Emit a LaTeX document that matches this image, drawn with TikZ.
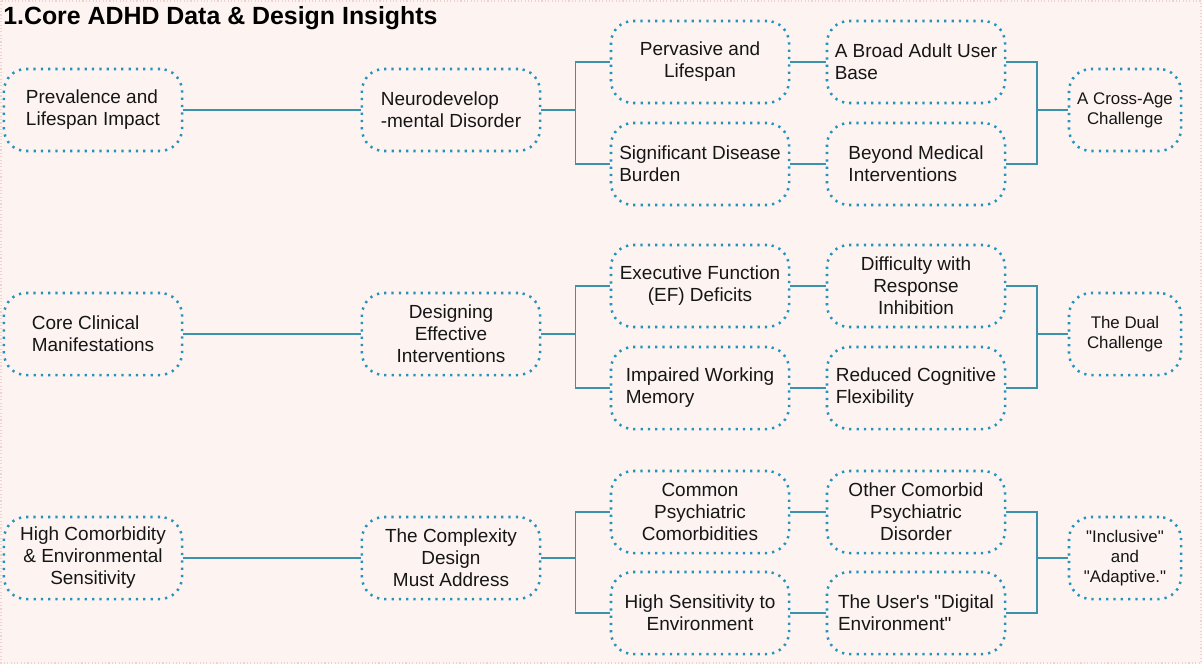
\documentclass[tikz,border=0pt]{standalone}
\usepackage{fontspec}
\setmainfont{Liberation Sans}
\usetikzlibrary{positioning, calc}
\definecolor{pagefill}{HTML}{FDF4F2}
\definecolor{pageedge}{HTML}{EFD3D1}
\definecolor{dotblue}{HTML}{2592BC}
\definecolor{linkteal}{HTML}{3A93AB}
\definecolor{inktext}{HTML}{161616}
\newcommand{\ideabox}[4][]{%
  \node[ideabox, #1] (#2) at (#3) {#4};}

\begin{document}
\begin{tikzpicture}[x=0.025cm, y=-0.025cm,
    font=\fontsize{13.5}{15.6}\selectfont,
    ideabox/.style={draw=dotblue, line width=1.8pt, dash pattern=on 1.6pt off 3.6pt,
      rounded corners=0.55cm, fill=pagefill, minimum width=4.45cm,
      minimum height=2.05cm, align=center, text=inktext, inner sep=2pt},
    endbox/.style={minimum width=2.8cm, font=\fontsize{12}{14.4}\selectfont},
    link/.style={draw=linkteal, line width=0.85pt}]
  % page
  \fill[pagefill] (0,0) rectangle (1202,664);
  \draw[pageedge, line width=0.8pt, dash pattern=on 0.8pt off 1.6pt] (1,1) rectangle (1201,663);
  \useasboundingbox (0,0) rectangle (1202,664);
  \node[anchor=base west, font=\fontsize{17.7}{20}\selectfont\bfseries, text=black,
        inner sep=0pt] (title) at (3,24) {1.Core ADHD Data \& Design Insights};

  % row 1
  \ideabox[align=left]{lead1}{93,110}{Prevalence and\\Lifespan Impact}
  \ideabox[align=left]{mid1}{451,110}{Neurodevelop\\-mental Disorder}
  \ideabox{top1}{700,62}{Pervasive and\\Lifespan}
  \ideabox[align=left]{bot1}{700,164}{Significant Disease\\Burden}
  \ideabox[align=left]{tr1}{916,62}{A Broad Adult User\\Base}
  \ideabox[align=left]{br1}{916,164}{Beyond Medical\\Interventions}
  \ideabox[endbox]{end1}{1125,110}{A Cross-Age\\Challenge}

  % row 2
  \ideabox[align=left]{lead2}{93,334}{Core Clinical\\Manifestations}
  \ideabox{mid2}{451,334}{Designing\\Effective\\Interventions}
  \ideabox{top2}{700,286}{Executive Function\\(EF) Deficits}
  \ideabox[align=left]{bot2}{700,388}{Impaired Working\\Memory}
  \ideabox{tr2}{916,286}{Difficulty with\\Response\\Inhibition}
  \ideabox[align=left]{br2}{916,388}{Reduced Cognitive\\Flexibility}
  \ideabox[endbox]{end2}{1125,334}{The Dual\\Challenge}

  % row 3
  \ideabox{lead3}{93,558}{High Comorbidity\\\& Environmental\\Sensitivity}
  \ideabox{mid3}{451,558}{The Complexity\\Design\\Must Address}
  \ideabox{top3}{700,512}{Common\\Psychiatric\\Comorbidities}
  \ideabox{bot3}{700,613}{High Sensitivity to\\Environment}
  \ideabox{tr3}{916,512}{Other Comorbid\\Psychiatric\\Disorder}
  \ideabox[align=left]{br3}{916,613}{The User\textquotesingle s \textquotedbl Digital\\Environment\textquotedbl}
  \ideabox[endbox]{end3}{1125,558}{\textquotedbl Inclusive\textquotedbl\\and\\\textquotedbl Adaptive.\textquotedbl}

  % connectors
  \foreach \r in {1,2,3} {
    \coordinate (fork\r) at ($(mid\r.east)!0.5!(mid\r.east -| top\r.west)$);
    \coordinate (join\r) at ($(tr\r.east)!0.5!(tr\r.east -| end\r.west)$);
    \draw[link] (lead\r.east) -- (mid\r.west);
    \draw[link] (mid\r.east) -- (fork\r) |- (top\r.west);
    \draw[link] (fork\r) |- (bot\r.west);
    \draw[link] (top\r.east) -- (tr\r.west);
    \draw[link] (bot\r.east) -- (br\r.west);
    \draw[link] (tr\r.east) -- (join\r) |- (br\r.east);
    \draw[link] (join\r |- end\r.west) -- (end\r.west);
  }
\end{tikzpicture}
\end{document}
